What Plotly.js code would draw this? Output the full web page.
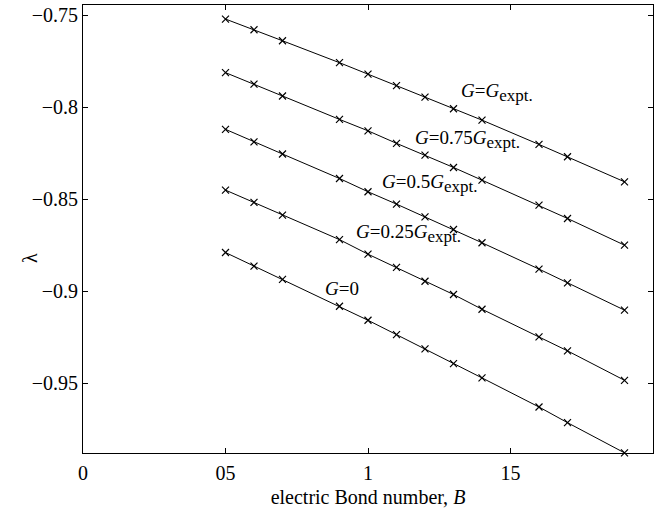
<!DOCTYPE html>
<html>
<head>
<meta charset="utf-8">
<script src="https://cdn.plot.ly/plotly-3.0.1.min.js"></script>
<style>html,body{margin:0;padding:0;background:#fff;}#chart{width:657px;height:513px;}</style>
</head>
<body>
<div id="chart"></div>
<script>
// electric Bond number B
const B = [0.5, 0.6, 0.7, 0.9, 1.0, 1.1, 1.2, 1.3, 1.4, 1.6, 1.7, 1.9];
// lambda for each gravity level
const lamG100 = [-0.7522, -0.7580, -0.7640, -0.7759, -0.7821, -0.7884, -0.7946, -0.8009, -0.8071, -0.8203, -0.8270, -0.8406];
const lamG075 = [-0.7813, -0.7875, -0.7940, -0.8067, -0.8129, -0.8197, -0.8261, -0.8328, -0.8397, -0.8533, -0.8605, -0.8750];
const lamG050 = [-0.8121, -0.8189, -0.8255, -0.8388, -0.8460, -0.8527, -0.8596, -0.8665, -0.8737, -0.8880, -0.8955, -0.9103];
const lamG025 = [-0.8451, -0.8518, -0.8587, -0.8720, -0.8799, -0.8871, -0.8946, -0.9018, -0.9098, -0.9248, -0.9324, -0.9484];
const lamG000 = [-0.8790, -0.8864, -0.8936, -0.9082, -0.9158, -0.9236, -0.9313, -0.9393, -0.9471, -0.9629, -0.9714, -0.9878];

const xTickVals = [0, 0.5, 1, 1.5, 2];
const xTickText = ["0", "05", "1", "15", "2"];
const yTickVals = [-0.75, -0.8, -0.85, -0.9, -0.95];
const yTickText = ["\u22120.75", "\u22120.8", "\u22120.85", "\u22120.9", "\u22120.95"];

const SUB = '<sub><span style="font-size:17px">expt.</span></sub>';
const seriesLabels = [
  "<i>G</i>=<i>G</i>" + SUB,
  "<i>G</i>=0.75<i>G</i>" + SUB,
  "<i>G</i>=0.5<i>G</i>" + SUB,
  "<i>G</i>=0.25<i>G</i>" + SUB,
  "<i>G</i>=0"
];
const labelX = [1.319, 1.157, 1.042, 0.951, 0.841];
const labelY = [-0.7921, -0.8178, -0.8415, -0.8689, -0.8984];

const series = [lamG100, lamG075, lamG050, lamG025, lamG000];
const FONT = "'Liberation Serif', 'Times New Roman', serif";

const traces = series.map((ys, i) => ({
  x: B, y: ys, type: 'scatter', mode: 'lines+markers',
  line: {color: '#000', width: 1},
  marker: {symbol: 'x-thin-open', size: 7, color: '#000', line: {color: '#000', width: 1.2}},
  cliponaxis: false, showlegend: false, hoverinfo: 'skip'
}));

const annotations = seriesLabels.map((t, i) => ({
  x: labelX[i], y: labelY[i], xref: 'x', yref: 'y', text: t, showarrow: false,
  xanchor: 'left', yanchor: 'middle', font: {family: FONT, size: 19, color: '#000'}
}));
const L = 83, R = 4, T = 5, Bm = 60, W = 657, H = 513;
annotations.push({
  x: (17 - L) / (W - L - R), y: 1 - (258 - T) / (H - T - Bm),
  xref: 'paper', yref: 'paper', text: '\u03bb', showarrow: false,
  textangle: -90, font: {family: FONT, size: 20, color: '#000'}
});

const layout = {
  width: W, height: H,
  margin: {l: L, r: R, t: T, b: Bm, pad: 0},
  paper_bgcolor: '#fff', plot_bgcolor: '#fff',
  font: {family: FONT, size: 20, color: '#000'},
  showlegend: false,
  xaxis: {
    range: [0, 2], tickvals: xTickVals, ticktext: xTickText,
    ticks: 'inside', ticklen: 5, tickcolor: '#000', tickwidth: 1,
    showline: true, linecolor: '#000', linewidth: 1, mirror: 'ticks',
    showgrid: false, zeroline: false, ticklabelstandoff: 2,
    tickfont: {family: FONT, size: 20, color: '#000'},
    title: {text: 'electric Bond number, <i>B</i>', font: {family: FONT, size: 20, color: '#000'}, standoff: 6}
  },
  yaxis: {
    range: [-0.98788, -0.74457], tickvals: yTickVals, ticktext: yTickText,
    ticks: 'inside', ticklen: 5, tickcolor: '#000', tickwidth: 1,
    showline: true, linecolor: '#000', linewidth: 1, mirror: 'ticks',
    showgrid: false, zeroline: false,
    tickfont: {family: FONT, size: 20, color: '#000'}
  },
  annotations: annotations
};

Plotly.newPlot('chart', traces, layout, {displayModeBar: false, staticPlot: true});
</script>
</body>
</html>
